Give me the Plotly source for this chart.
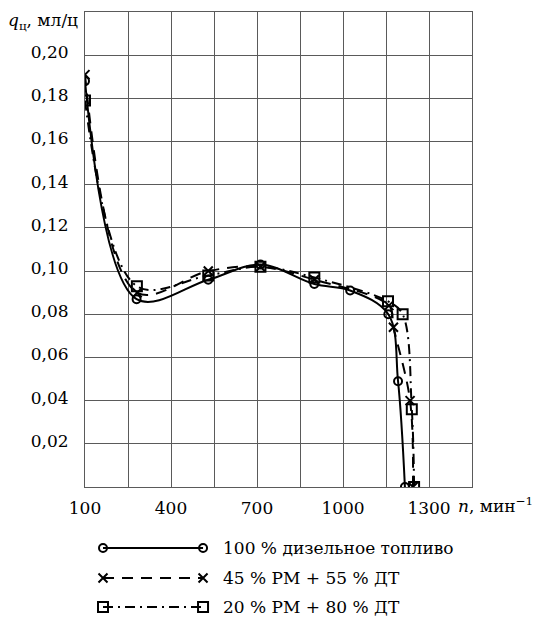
import plotly.graph_objects as go

# частота вращения, мин^-1 и цикловая подача, мл/ц
n_dt = [100, 280, 530, 712, 900, 1025, 1158, 1192, 1216]
q_dt = [0.188, 0.087, 0.096, 0.103, 0.094, 0.091, 0.080, 0.049, 0.0]

n_rm45 = [100, 282, 530, 712, 900, 1160, 1176, 1234, 1244]
q_rm45 = [0.191, 0.090, 0.100, 0.102, 0.096, 0.084, 0.074, 0.040, 0.0]

n_rm20 = [100, 281, 530, 712, 900, 1157, 1208, 1240, 1248]
q_rm20 = [0.179, 0.093, 0.098, 0.102, 0.097, 0.086, 0.080, 0.036, 0.0]

names = ['100 % дизельное топливо', '45 % РМ + 55 % ДТ', '20 % РМ + 80 % ДТ']

x_ticks = [100, 250, 400, 550, 700, 850, 1000, 1150, 1300]
x_labels = ['100', '', '400', '', '700', '', '1000', '', '1300']
y_ticks = [0.02, 0.04, 0.06, 0.08, 0.10, 0.12, 0.14, 0.16, 0.18, 0.20]

FONT = 'DejaVu Serif'
FS = 17
styles = [
    dict(dash='solid', symbol='circle-open', size=8),
    dict(dash='11px,8px', symbol='x-thin-open', size=9),
    dict(dash='10px,5px,2px,5px', symbol='square-open', size=10),
]
series = [(n_dt, q_dt), (n_rm45, q_rm45), (n_rm20, q_rm20)]

fig = go.Figure()

for (xs, ys), st, name in zip(series, styles, names):
    fig.add_trace(go.Scatter(
        x=xs, y=ys, name=name, mode='lines+markers',
        line=dict(color='black', width=2, dash=st['dash'], shape='spline', smoothing=1.0),
        marker=dict(symbol=st['symbol'], size=st['size'], color='black',
                    line=dict(color='black', width=2)),
        showlegend=False,
    ))

# самодельная легенда под графиком (длинные линии с маркерами на концах)
leg_rows = [0.117, 0.0675, 0.0198]
for (xs, ys), st, name, yy in zip(series, styles, names, leg_rows):
    fig.add_trace(go.Scatter(
        x=[0.0465, 0.305], y=[yy, yy], mode='lines+markers',
        line=dict(color='black', width=2, dash=st['dash']),
        marker=dict(symbol=st['symbol'], size=st['size'], color='black',
                    line=dict(color='black', width=2)),
        xaxis='x2', yaxis='y2', showlegend=False, hoverinfo='skip',
    ))
    fig.add_annotation(x=0.352, y=yy, xref='paper', yref='paper', text=name,
                       showarrow=False, xanchor='left', yanchor='middle',
                       font=dict(size=FS, family=FONT, color='black'))

fig.add_annotation(x=-0.013, y=0.985, xref='paper', yref='paper',
                   text='<i>q</i><sub>ц</sub>, мл/ц', showarrow=False,
                   xanchor='right', yanchor='middle',
                   font=dict(size=FS, family=FONT, color='black'))
fig.add_annotation(x=1.0, y=0.2175, xref='paper', yref='paper',
                   text='<i>n</i>, мин<sup>−1</sup>', showarrow=False,
                   xanchor='left', yanchor='top', xshift=-16, yshift=-5,
                   font=dict(size=FS, family=FONT, color='black'))

grid = '#5a5a5a'
fig.update_layout(
    width=542, height=619,
    margin=dict(l=85, r=70, t=12, b=0),
    paper_bgcolor='white', plot_bgcolor='white',
    separators=', ',
    font=dict(family=FONT, size=FS, color='black'),
    xaxis=dict(range=[100, 1450], tickvals=x_ticks, ticktext=x_labels,
               showgrid=True, gridcolor=grid, gridwidth=1,
               showline=True, linecolor=grid, mirror=True, zeroline=False,
               ticks='', ticklen=0, domain=[0, 1], anchor='y',
               ticklabelstandoff=6),
    yaxis=dict(range=[0, 0.22], tickvals=y_ticks, tickformat='.2f',
               showgrid=True, gridcolor=grid, gridwidth=1,
               showline=True, linecolor=grid, mirror=True, zeroline=False,
               ticks='', domain=[0.2175, 1], anchor='x', ticklabelstandoff=12,
               ticklabelshift=-3),
    xaxis2=dict(range=[0, 1], domain=[0, 1], visible=False, anchor='y2'),
    yaxis2=dict(range=[0, 0.2], domain=[0, 0.2], visible=False, anchor='x2'),
)

fig.write_html('out.html', config={'displayModeBar': False},
               post_script="document.body.style.margin='0px';")
